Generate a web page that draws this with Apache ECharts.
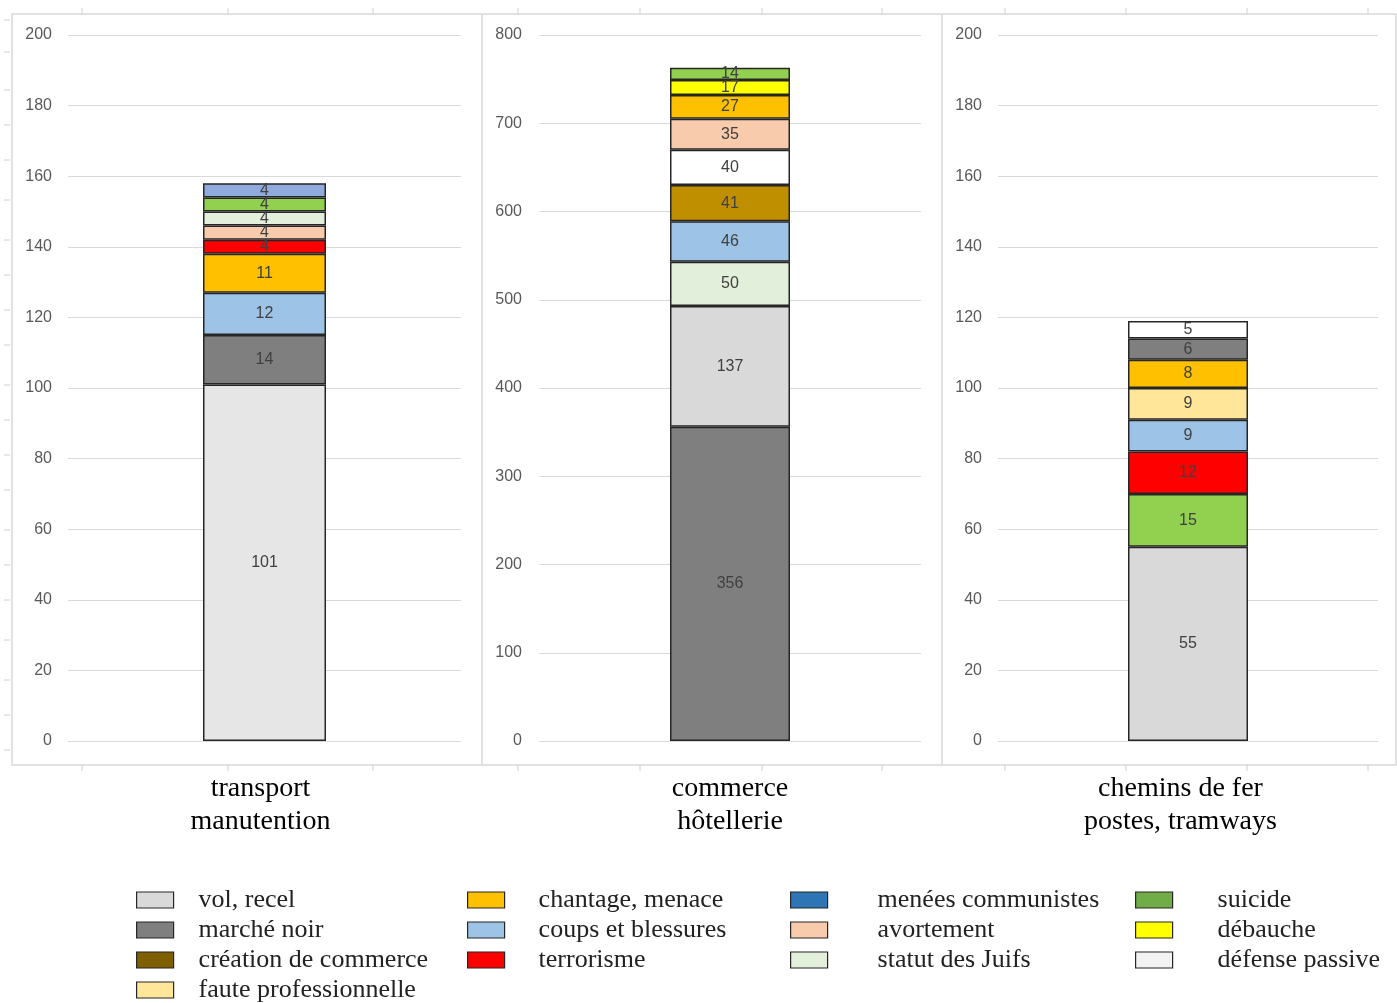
<!DOCTYPE html>
<html>
<head>
<meta charset="utf-8">
<script src="https://cdn.jsdelivr.net/npm/echarts@6/dist/echarts.min.js"></script>
<style>
  html,body{margin:0;padding:0;background:#fff;}
  #chart{width:1397px;height:1003px;}
</style>
</head>
<body>
<div id="chart"></div>
<script>
// catégories de chaque panneau (axe x)
var panelNames = ['transport\nmanutention', 'commerce\nhôtellerie', 'chemins de fer\npostes, tramways'];

// empilement de bas en haut, panneau par panneau
var transportCats = ['vol, recel', 'marché noir', 'coups et blessures', 'chantage, menace', 'terrorisme', 'avortement', 'statut des Juifs', 'suicide', 'menées communistes'];
var transportVals = [101, 14, 12, 11, 4, 4, 4, 4, 4];

var commerceCats = ['marché noir', 'vol, recel', 'statut des Juifs', 'coups et blessures', 'création de commerce', 'défense passive', 'avortement', 'chantage, menace', 'débauche', 'suicide'];
var commerceVals = [356, 137, 50, 46, 41, 40, 35, 27, 17, 14];

var cheminsCats = ['vol, recel', 'suicide', 'terrorisme', 'coups et blessures', 'faute professionnelle', 'chantage, menace', 'marché noir', 'défense passive'];
var cheminsVals = [55, 15, 12, 9, 9, 8, 6, 5];

// axes y
var yMax = [200, 800, 200];
var yStep = [20, 100, 20];

// légende (4 colonnes)
var legendCols = [
  ['vol, recel', 'marché noir', 'création de commerce', 'faute professionnelle'],
  ['chantage, menace', 'coups et blessures', 'terrorisme'],
  ['menées communistes', 'avortement', 'statut des Juifs'],
  ['suicide', 'débauche', 'défense passive']
];

// couleurs
var barColor = {
  'vol, recel': '#D9D9D9',
  'marché noir': '#7F7F7F',
  'création de commerce': '#BF8F00',
  'faute professionnelle': '#FFE699',
  'chantage, menace': '#FFC000',
  'coups et blessures': '#9DC3E6',
  'terrorisme': '#FF0000',
  'menées communistes': '#8FAADC',
  'avortement': '#F8CBAD',
  'statut des Juifs': '#E2EFDA',
  'suicide': '#92D050',
  'débauche': '#FFFF00',
  'défense passive': '#FFFFFF'
};
var legendColor = {
  'vol, recel': '#D9D9D9',
  'marché noir': '#7F7F7F',
  'création de commerce': '#7F6000',
  'faute professionnelle': '#FFE699',
  'chantage, menace': '#FFC000',
  'coups et blessures': '#9DC3E6',
  'terrorisme': '#FF0000',
  'menées communistes': '#2E75B6',
  'avortement': '#F8CBAD',
  'statut des Juifs': '#E2EFDA',
  'suicide': '#70AD47',
  'débauche': '#FFFF00',
  'défense passive': '#F2F2F2'
};

var grids = [
  {left: 68, width: 393, top: 35, height: 706},
  {left: 539, width: 382, top: 35, height: 706},
  {left: 998, width: 380, top: 35, height: 706}
];
var yMargins = [16, 17, 16];
var barW = [123, 120, 120];
var xLabelPad = [[0, 8, 0, 0], [0, 0, 0, 0], [0, 15, 0, 0]];

var xAxes = [], yAxes = [], series = [];
var stacks = [[transportCats, transportVals], [commerceCats, commerceVals], [cheminsCats, cheminsVals]];

for (var i = 0; i < 3; i++) {
  xAxes.push({
    type: 'category', gridIndex: i, data: [panelNames[i]],
    axisLine: {show: false}, axisTick: {show: false},
    axisLabel: {margin: 31, fontFamily: 'Liberation Serif', fontSize: 28, color: '#000', lineHeight: 33, padding: xLabelPad[i]}
  });
  yAxes.push({
    type: 'value', gridIndex: i, min: 0, max: yMax[i], interval: yStep[i],
    axisLine: {show: false}, axisTick: {show: false},
    axisLabel: {margin: yMargins[i], fontFamily: 'Liberation Sans', fontSize: 16, color: '#595959'},
    splitLine: {lineStyle: {color: '#D9D9D9', width: 1}}
  });
  var cats = stacks[i][0], vals = stacks[i][1];
  for (var k = 0; k < cats.length; k++) {
    var col = barColor[cats[k]];
    if (i === 0 && cats[k] === 'vol, recel') col = '#E7E6E6';
    series.push({
      type: 'bar', name: cats[k], stack: 'p' + i,
      xAxisIndex: i, yAxisIndex: i,
      barWidth: barW[i],
      data: [vals[k]],
      itemStyle: {color: col, borderColor: '#262626', borderWidth: 1.5},
      label: {show: true, position: 'inside', color: '#404040', fontFamily: 'Liberation Sans', fontSize: 16},
      emphasis: {disabled: true}
    });
  }
}

// une légende par entrée, pour tenir la grille 4 colonnes
var legendLeft = [136, 467, 790, 1135];
var legendPad = [20, 29, 45, 40];
var legends = [];
legendCols.forEach(function (names, c) {
  names.forEach(function (n, r) {
    legends.push({
      orient: 'vertical', left: legendLeft[c], top: 887 + r * 30, padding: 0,
      itemWidth: 37, itemHeight: 16,
      selectedMode: false,
      textStyle: {fontFamily: 'Liberation Serif', fontSize: 26, color: '#222', padding: [0, 0, 0, legendPad[c]]},
      data: [{name: n, icon: 'rect', itemStyle: {color: legendColor[n], borderColor: '#262626', borderWidth: 1.2}}]
    });
  });
});

// cadres des panneaux et petites graduations
var g = [
  {type: 'rect', shape: {x: 12, y: 14, width: 1384, height: 751}, style: {fill: null, stroke: '#D9D9D9', lineWidth: 1.5}},
  {type: 'line', shape: {x1: 482, y1: 14, x2: 482, y2: 765}, style: {stroke: '#D9D9D9', lineWidth: 1.5}},
  {type: 'line', shape: {x1: 942, y1: 14, x2: 942, y2: 765}, style: {stroke: '#D9D9D9', lineWidth: 1.5}}
];
[82, 228, 373, 518, 640, 762, 882, 1005, 1126, 1247, 1368].forEach(function (x) {
  g.push({type: 'line', shape: {x1: x, y1: 8, x2: x, y2: 14}, style: {stroke: '#D0D0D0', lineWidth: 1}});
  g.push({type: 'line', shape: {x1: x, y1: 765, x2: x, y2: 771}, style: {stroke: '#D0D0D0', lineWidth: 1}});
});
[20, 52, 90, 125, 160, 200, 240, 275, 310, 345, 385, 420, 455, 490, 530, 565, 600, 640, 680, 715, 750].forEach(function (y) {
  g.push({type: 'line', shape: {x1: 4, y1: y, x2: 10, y2: y}, style: {stroke: '#D0D0D0', lineWidth: 1}});
});

var chart = echarts.init(document.getElementById('chart'));
chart.setOption({
  backgroundColor: '#fff',
  animation: false,
  grid: grids,
  xAxis: xAxes,
  yAxis: yAxes,
  legend: legends,
  series: series,
  graphic: g
});
</script>
</body>
</html>
